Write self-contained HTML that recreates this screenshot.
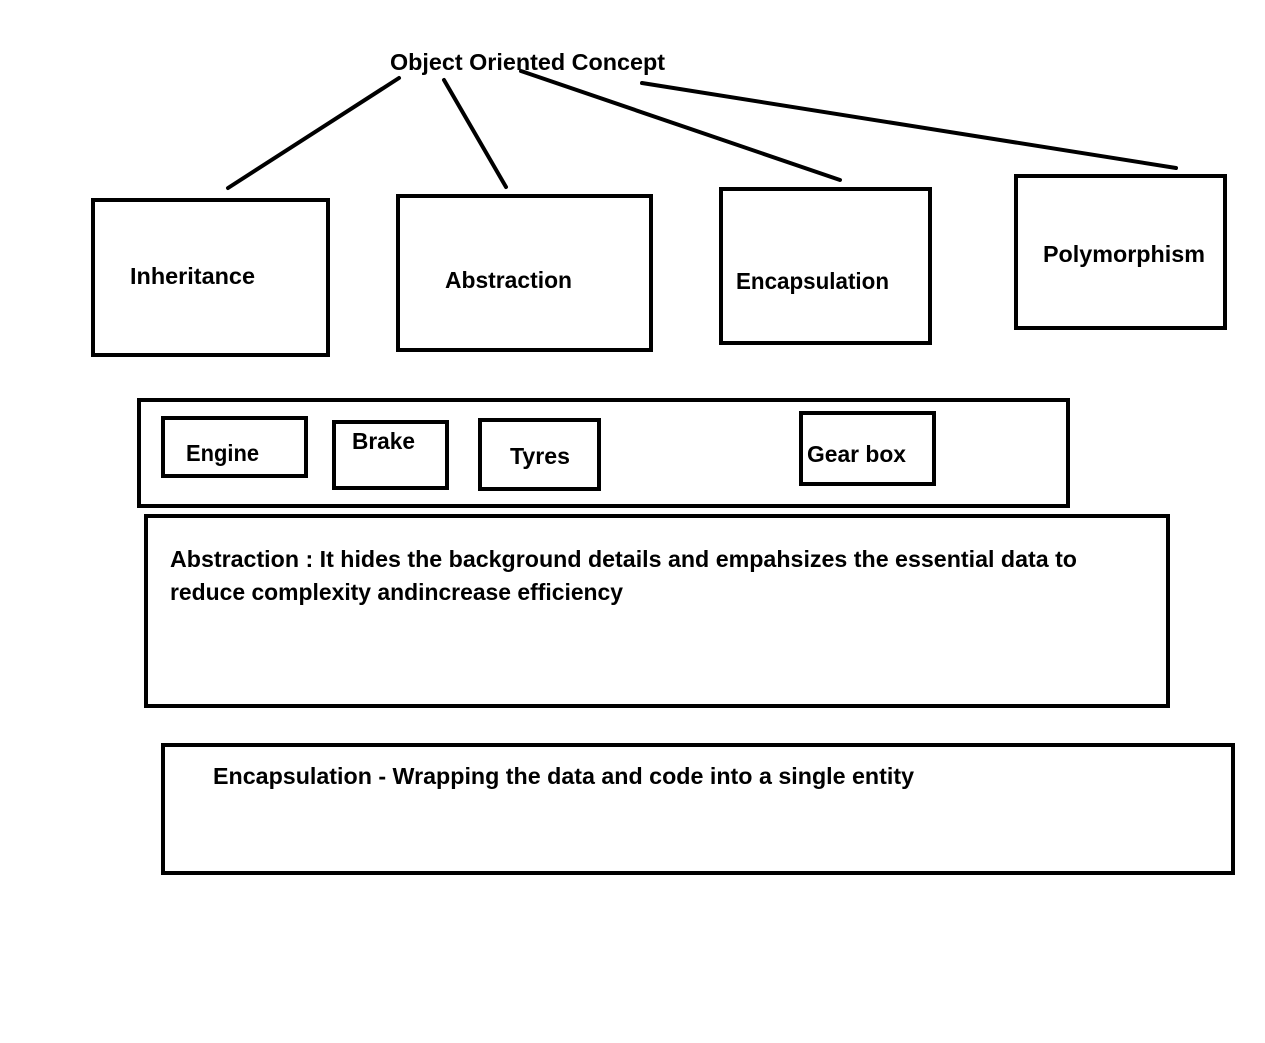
<!DOCTYPE html>
<html><head><meta charset="utf-8"><style>
html,body{margin:0;padding:0;background:#fff}
svg{display:block}
text{font-family:"Liberation Sans",sans-serif;font-weight:bold;fill:#000}
</style></head><body>
<svg width="1265" height="1043" viewBox="0 0 1265 1043" xmlns="http://www.w3.org/2000/svg">
<g fill="none" stroke="#000" stroke-width="4" stroke-linecap="round">
<line x1="228" y1="188" x2="399" y2="78"/>
<line x1="444" y1="80" x2="506" y2="187"/>
<line x1="521" y1="71" x2="840" y2="180"/>
<line x1="642" y1="83" x2="1176" y2="168"/>
</g>
<g fill="none" stroke="#000" stroke-width="4">
<rect x="93" y="200" width="235" height="155"/>
<rect x="398" y="196" width="253" height="154"/>
<rect x="721" y="189" width="209" height="154"/>
<rect x="1016" y="176" width="209" height="152"/>
<rect x="139" y="400" width="929" height="106"/>
<rect x="163" y="418" width="143" height="58"/>
<rect x="334" y="422" width="113" height="66"/>
<rect x="480" y="420" width="119" height="69"/>
<rect x="801" y="413" width="133" height="71"/>
<rect x="146" y="516" width="1022" height="190"/>
<rect x="163" y="745" width="1070" height="128"/>
</g>
<text x="390" y="70" font-size="23" textLength="275" lengthAdjust="spacingAndGlyphs">Object Oriented Concept</text>
<text x="130" y="284" font-size="23" textLength="125" lengthAdjust="spacingAndGlyphs">Inheritance</text>
<text x="445" y="288" font-size="23" textLength="127" lengthAdjust="spacingAndGlyphs">Abstraction</text>
<text x="736" y="289" font-size="23" textLength="153" lengthAdjust="spacingAndGlyphs">Encapsulation</text>
<text x="1043" y="262" font-size="23" textLength="162" lengthAdjust="spacingAndGlyphs">Polymorphism</text>
<text x="186" y="461" font-size="23" textLength="73" lengthAdjust="spacingAndGlyphs">Engine</text>
<text x="352" y="449" font-size="23" textLength="63" lengthAdjust="spacingAndGlyphs">Brake</text>
<text x="510" y="464" font-size="23" textLength="60" lengthAdjust="spacingAndGlyphs">Tyres</text>
<text x="807" y="462" font-size="23" textLength="99" lengthAdjust="spacingAndGlyphs">Gear box</text>
<text x="170" y="567" font-size="23" textLength="907" lengthAdjust="spacingAndGlyphs">Abstraction : It hides the background details and empahsizes the essential data to</text>
<text x="170" y="600" font-size="23" textLength="453" lengthAdjust="spacingAndGlyphs">reduce complexity andincrease efficiency</text>
<text x="213" y="784" font-size="23" textLength="701" lengthAdjust="spacingAndGlyphs">Encapsulation - Wrapping the data and code into a single entity</text>
</svg>
</body></html>
